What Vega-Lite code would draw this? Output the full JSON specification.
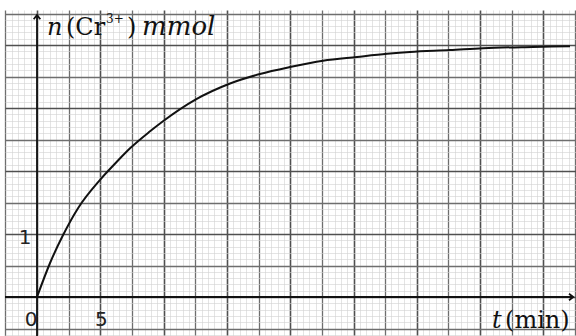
{
  "$schema": "https://vega.github.io/schema/vega-lite/v6.json",
  "width": 571,
  "height": 326,
  "autosize": {"type": "none"},
  "padding": {"left": 5, "top": 10, "right": 0, "bottom": 0},
  "background": "white",
  "config": {"view": {"stroke": null}},
  "datasets": {
    "curve": [
      {"t": 0, "n": 0},
      {"t": 1.03, "n": 0.54},
      {"t": 2.05, "n": 0.98},
      {"t": 3.24, "n": 1.41},
      {"t": 4.98, "n": 1.86},
      {"t": 6.32, "n": 2.15},
      {"t": 7.35, "n": 2.36},
      {"t": 8.93, "n": 2.63},
      {"t": 9.95, "n": 2.79},
      {"t": 12.48, "n": 3.13},
      {"t": 15.25, "n": 3.39},
      {"t": 17.61, "n": 3.54},
      {"t": 19.98, "n": 3.65},
      {"t": 22.59, "n": 3.75},
      {"t": 25.28, "n": 3.81},
      {"t": 27.65, "n": 3.86},
      {"t": 29.46, "n": 3.89},
      {"t": 32.62, "n": 3.92},
      {"t": 35.23, "n": 3.95},
      {"t": 39.18, "n": 3.97},
      {"t": 42.1, "n": 3.98}
    ],
    "xtick0": [
      {"t": 0, "n": 0, "label": "0"}
    ],
    "xtick5": [
      {"t": 5, "n": 0, "label": "5"}
    ],
    "yticks": [
      {"t": 0, "n": 1, "label": "1"}
    ],
    "one": [{}]
  },
  "encoding": {
    "x": {
      "type": "quantitative",
      "scale": {"domain": [-2.528, 42.575], "nice": false, "zero": false},
      "axis": {
        "title": null, "labels": false, "ticks": false, "domain": false, "grid": true,
        "values": [-2.5,-2,-1.5,-1,-0.5,0,0.5,1,1.5,2,2.5,3,3.5,4,4.5,5,5.5,6,6.5,7,7.5,8,8.5,9,9.5,10,10.5,11,11.5,12,12.5,13,13.5,14,14.5,15,15.5,16,16.5,17,17.5,18,18.5,19,19.5,20,20.5,21,21.5,22,22.5,23,23.5,24,24.5,25,25.5,26,26.5,27,27.5,28,28.5,29,29.5,30,30.5,31,31.5,32,32.5,33,33.5,34,34.5,35,35.5,36,36.5,37,37.5,38,38.5,39,39.5,40,40.5,41,41.5,42,42.5],
        "gridColor": {
          "condition": [
            {"test": "datum.value % 5 === 0", "value": "#505050"},
            {"test": "datum.value % 2.5 === 0", "value": "#6e6e6e"}
          ],
          "value": "#d2d2d2"
        },
        "gridWidth": {
          "condition": [
            {"test": "datum.value % 5 === 0", "value": 1.6},
            {"test": "datum.value % 2.5 === 0", "value": 1.3}
          ],
          "value": 0.6
        }
      }
    },
    "y": {
      "type": "quantitative",
      "scale": {"domain": [-0.619, 4.556], "nice": false, "zero": false},
      "axis": {
        "title": null, "labels": false, "ticks": false, "domain": false, "grid": true,
        "values": [-0.6,-0.5,-0.4,-0.3,-0.2,-0.1,0,0.1,0.2,0.3,0.4,0.5,0.6,0.7,0.8,0.9,1,1.1,1.2,1.3,1.4,1.5,1.6,1.7,1.8,1.9,2,2.1,2.2,2.3,2.4,2.5,2.6,2.7,2.8,2.9,3,3.1,3.2,3.3,3.4,3.5,3.6,3.7,3.8,3.9,4,4.1,4.2,4.3,4.4,4.5],
        "gridColor": {
          "condition": [
            {"test": "abs(datum.value - round(datum.value)) < 0.001", "value": "#505050"},
            {"test": "abs(datum.value * 2 - round(datum.value * 2)) < 0.001", "value": "#6e6e6e"}
          ],
          "value": "#d2d2d2"
        },
        "gridWidth": {
          "condition": [
            {"test": "abs(datum.value - round(datum.value)) < 0.001", "value": 1.6},
            {"test": "abs(datum.value * 2 - round(datum.value * 2)) < 0.001", "value": 1.3}
          ],
          "value": 0.6
        }
      }
    }
  },
  "layer": [
    {
      "data": {"name": "curve"},
      "mark": {"type": "line", "color": "#111", "strokeWidth": 2, "interpolate": "monotone", "clip": true},
      "encoding": {
        "x": {"field": "t", "type": "quantitative"},
        "y": {"field": "n", "type": "quantitative"}
      }
    },
    {
      "data": {"name": "one"},
      "mark": {"type": "rule", "color": "#111", "strokeWidth": 1.8},
      "encoding": {
        "x": {"datum": -2.528, "type": "quantitative"},
        "x2": {"datum": 42.3},
        "y": {"datum": 0, "type": "quantitative"}
      }
    },
    {
      "data": {"name": "one"},
      "mark": {"type": "rule", "color": "#111", "strokeWidth": 1.8},
      "encoding": {
        "x": {"datum": 0, "type": "quantitative"},
        "y": {"datum": -0.619, "type": "quantitative"},
        "y2": {"datum": 4.46}
      }
    },
    {
      "data": {"name": "one"},
      "mark": {"type": "point", "shape": "M-0.9,-0.7L0,0L-0.9,0.7", "size": 90, "filled": false, "stroke": "#111", "strokeWidth": 1.8, "opacity": 1},
      "encoding": {
        "x": {"datum": 42.36, "type": "quantitative"},
        "y": {"datum": 0, "type": "quantitative"}
      }
    },
    {
      "data": {"name": "one"},
      "mark": {"type": "point", "shape": "M-0.7,0.9L0,0L0.7,0.9", "size": 90, "filled": false, "stroke": "#111", "strokeWidth": 1.8, "opacity": 1},
      "encoding": {
        "x": {"datum": 0, "type": "quantitative"},
        "y": {"datum": 4.476, "type": "quantitative"}
      }
    },
    {
      "data": {"name": "xtick0"},
      "mark": {"type": "text", "font": "DejaVu Sans", "fontSize": 20, "color": "#222", "align": "center", "baseline": "middle", "dx": -6, "dy": 23},
      "encoding": {
        "x": {"field": "t", "type": "quantitative"},
        "y": {"field": "n", "type": "quantitative"},
        "text": {"field": "label"}
      }
    },
    {
      "data": {"name": "xtick5"},
      "mark": {"type": "text", "font": "DejaVu Sans", "fontSize": 20, "color": "#222", "align": "center", "baseline": "middle", "dx": 1, "dy": 23},
      "encoding": {
        "x": {"field": "t", "type": "quantitative"},
        "y": {"field": "n", "type": "quantitative"},
        "text": {"field": "label"}
      }
    },
    {
      "data": {"name": "yticks"},
      "mark": {"type": "text", "font": "DejaVu Sans", "fontSize": 20, "color": "#222", "align": "center", "baseline": "middle", "dx": -12, "dy": 4},
      "encoding": {
        "x": {"field": "t", "type": "quantitative"},
        "y": {"field": "n", "type": "quantitative"},
        "text": {"field": "label"}
      }
    },
    {
      "data": {"name": "one"},
      "mark": {"type": "text", "font": "DejaVu Serif", "fontSize": 24, "fontStyle": "italic", "color": "#111", "align": "left", "baseline": "alphabetic"},
      "encoding": {
        "x": {"datum": 0.79, "type": "quantitative"},
        "y": {"datum": 4.16, "type": "quantitative"},
        "text": {"value": "n"}
      }
    },
    {
      "data": {"name": "one"},
      "mark": {"type": "text", "font": "DejaVu Serif", "fontSize": 24, "color": "#111", "align": "left", "baseline": "alphabetic"},
      "encoding": {
        "x": {"datum": 2.29, "type": "quantitative"},
        "y": {"datum": 4.16, "type": "quantitative"},
        "text": {"value": "(Cr"}
      }
    },
    {
      "data": {"name": "one"},
      "mark": {"type": "text", "font": "DejaVu Serif", "fontSize": 12, "color": "#111", "align": "left", "baseline": "alphabetic"},
      "encoding": {
        "x": {"datum": 5.45, "type": "quantitative"},
        "y": {"datum": 4.35, "type": "quantitative"},
        "text": {"value": "3+"}
      }
    },
    {
      "data": {"name": "one"},
      "mark": {"type": "text", "font": "DejaVu Serif", "fontSize": 24, "color": "#111", "align": "left", "baseline": "alphabetic"},
      "encoding": {
        "x": {"datum": 7.11, "type": "quantitative"},
        "y": {"datum": 4.16, "type": "quantitative"},
        "text": {"value": ")"}
      }
    },
    {
      "data": {"name": "one"},
      "mark": {"type": "text", "font": "DejaVu Serif", "fontSize": 26, "fontStyle": "italic", "color": "#111", "align": "left", "baseline": "alphabetic"},
      "encoding": {
        "x": {"datum": 8.3, "type": "quantitative"},
        "y": {"datum": 4.16, "type": "quantitative"},
        "text": {"value": "mmol"}
      }
    },
    {
      "data": {"name": "one"},
      "mark": {"type": "text", "font": "DejaVu Serif", "fontSize": 24, "fontStyle": "italic", "color": "#111", "align": "left", "baseline": "alphabetic"},
      "encoding": {
        "x": {"datum": 35.94, "type": "quantitative"},
        "y": {"datum": -0.49, "type": "quantitative"},
        "text": {"value": "t"}
      }
    },
    {
      "data": {"name": "one"},
      "mark": {"type": "text", "font": "DejaVu Serif", "fontSize": 24, "color": "#111", "align": "left", "baseline": "alphabetic"},
      "encoding": {
        "x": {"datum": 36.97, "type": "quantitative"},
        "y": {"datum": -0.49, "type": "quantitative"},
        "text": {"value": "(min)"}
      }
    }
  ]
}
